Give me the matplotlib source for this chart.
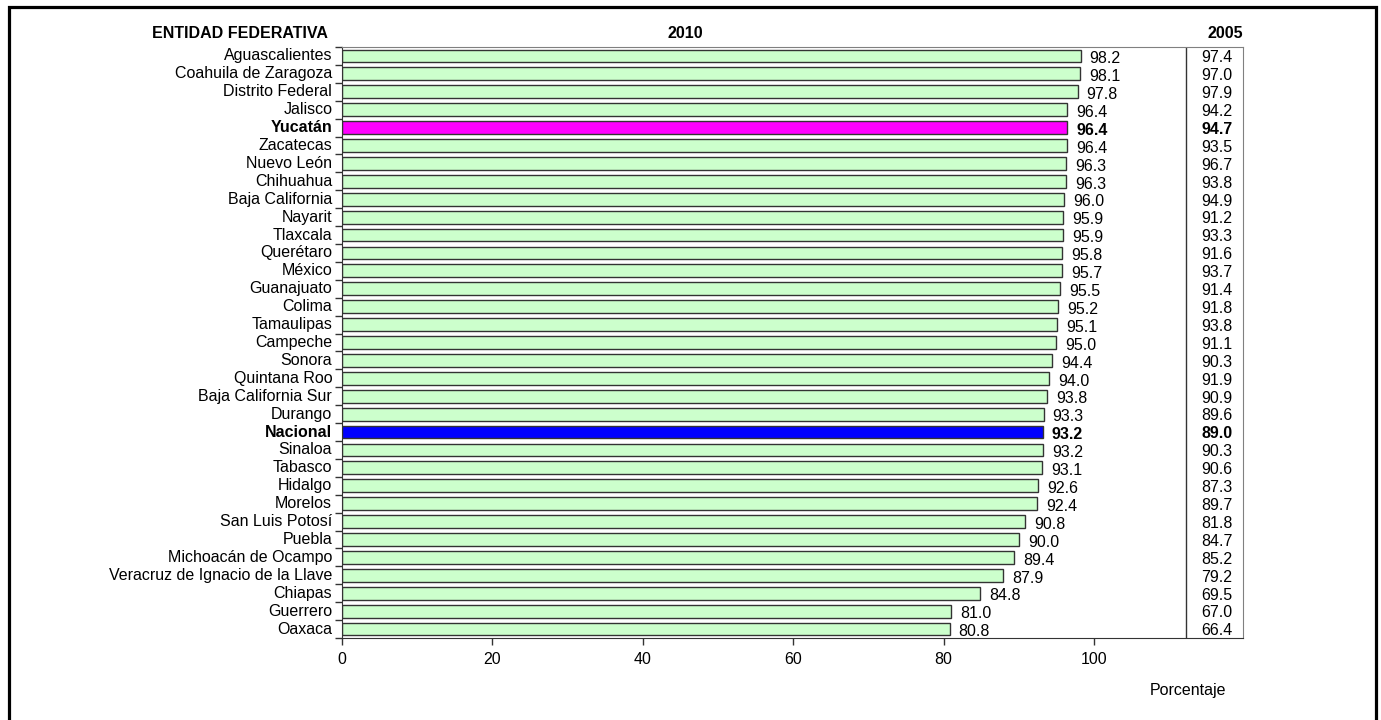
import matplotlib.pyplot as plt
from matplotlib.patches import Rectangle

plt.rcParams["font.family"] = ["Liberation Sans", "DejaVu Sans"]

# Data
estados = ["Aguascalientes", "Coahuila de Zaragoza", "Distrito Federal", "Jalisco",
           "Yucatán", "Zacatecas", "Nuevo León", "Chihuahua", "Baja California",
           "Nayarit", "Tlaxcala", "Querétaro", "México", "Guanajuato", "Colima",
           "Tamaulipas", "Campeche", "Sonora", "Quintana Roo", "Baja California Sur",
           "Durango", "Nacional", "Sinaloa", "Tabasco", "Hidalgo", "Morelos",
           "San Luis Potosí", "Puebla", "Michoacán de Ocampo",
           "Veracruz de Ignacio de la Llave", "Chiapas", "Guerrero", "Oaxaca"]
valores_2010 = [98.2, 98.1, 97.8, 96.4, 96.4, 96.4, 96.3, 96.3, 96.0, 95.9, 95.9,
                95.8, 95.7, 95.5, 95.2, 95.1, 95.0, 94.4, 94.0, 93.8, 93.3, 93.2,
                93.2, 93.1, 92.6, 92.4, 90.8, 90.0, 89.4, 87.9, 84.8, 81.0, 80.8]
valores_2005 = [97.4, 97.0, 97.9, 94.2, 94.7, 93.5, 96.7, 93.8, 94.9, 91.2, 93.3,
                91.6, 93.7, 91.4, 91.8, 93.8, 91.1, 90.3, 91.9, 90.9, 89.6, 89.0,
                90.3, 90.6, 87.3, 89.7, 81.8, 84.7, 85.2, 79.2, 69.5, 67.0, 66.4]
destacados = {"Yucatán": "#ff00ff", "Nacional": "#0000ff"}
xticks = [0, 20, 40, 60, 80, 100]

fs = 11.5

fig = plt.figure(figsize=(13.81, 7.2), dpi=100)
fig.patches.append(Rectangle((8.5 / 1381, -0.01), 1367 / 1381, 1 - 6.5 / 720 + 0.01,
                             transform=fig.transFigure, fill=False,
                             edgecolor="black", linewidth=2.3))

ax = fig.add_axes([342 / 1381, 1 - 638 / 720, 901 / 1381, 591 / 720])

n = len(estados)
pos = list(range(n))
colores = [destacados.get(e, "#ccffcc") for e in estados]
ax.barh(pos, valores_2010, height=0.72, color=colores, edgecolor="#333333",
        linewidth=1)

ax.set_xlim(0, 119.8)
ax.set_ylim(n - 0.5, -0.5)
ax.set_xticks(xticks)
ax.set_xticklabels([str(t) for t in xticks], fontsize=fs)
ax.set_yticks([p + 0.5 for p in pos[:-1]] + [-0.5, n - 0.5])
ax.set_yticklabels([])
ax.tick_params(axis="y", length=5, width=1, color="#333333")
ax.tick_params(axis="x", length=5, width=1, color="#333333", pad=5)

for p, e, v, v5 in zip(pos, estados, valores_2010, valores_2005):
    peso = "bold" if e in destacados else "normal"
    ax.text(-1.3, p, e, ha="right", va="center", fontsize=fs, fontweight=peso)
    ax.text(v + 1.2, p + 0.15, f"{v:.1f}", ha="left", va="center", fontsize=fs,
            fontweight=peso)
    ax.text(118.4, p + 0.1, f"{v5:.1f}", ha="right", va="center", fontsize=fs,
            fontweight=peso)

ax.axvline(112.2, color="#333333", linewidth=1)

for s in ["top", "right"]:
    ax.spines[s].set_color("#808080")
ax.spines["left"].set_color("#333333")
ax.spines["bottom"].set_color("#333333")

fig.text(152 / 1381, 1 - 33 / 720, "ENTIDAD FEDERATIVA", fontsize=11.5,
         fontweight="bold", va="center", ha="left")
fig.text(685 / 1381, 1 - 33 / 720, "2010", fontsize=11.5, fontweight="bold",
         va="center", ha="center")
fig.text(1225 / 1381, 1 - 33 / 720, "2005", fontsize=11.5, fontweight="bold",
         va="center", ha="center")
fig.text(1188 / 1381, 1 - 690 / 720, "Porcentaje", fontsize=fs, va="center",
         ha="center")

fig.savefig("out.png", dpi=100)
